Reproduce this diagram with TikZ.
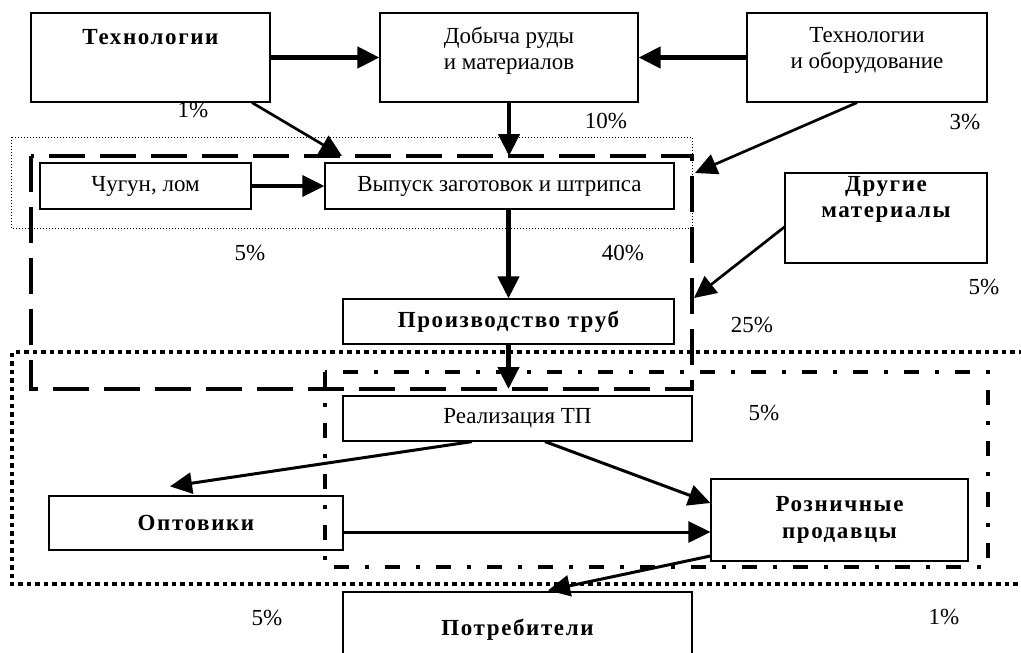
\documentclass[tikz,border=0pt]{standalone}
\usepackage{fontspec}
\setmainfont{Liberation Serif}
\usetikzlibrary{arrows.meta,positioning}

\newcommand{\bfsp}{\bfseries\addfontfeature{LetterSpace=7}}

\begin{document}
\begin{tikzpicture}[x=1pt, y=-1pt,
  box/.style={draw, line width=1.2pt, inner sep=0pt, align=center,
              font=\fontsize{23}{27}\selectfont},
  bbox/.style={box, font=\fontsize{23}{27}\selectfont\bfsp},
  lbl/.style={inner sep=0pt, align=center, font=\fontsize{23}{26}\selectfont},
  blbl/.style={lbl, font=\fontsize{23}{26}\selectfont\bfsp},
  pct/.style={inner sep=0pt, font=\fontsize{23}{26}\selectfont},
  arr/.style={draw, line width=4.5pt, -{Triangle[length=22pt,width=21pt]}},
  arrm/.style={arr, line width=3pt},
  frdot/.style={draw, line width=1pt, dash pattern=on 1pt off 2pt},
  frdash/.style={draw, line width=4pt, dash pattern=on 36pt off 15pt},
  frbig/.style={draw, line width=4pt, dash pattern=on 4.5pt off 4pt},
  frdd/.style={draw, line width=4pt, dash pattern=on 15pt off 16pt on 4pt off 16pt},
]
\useasboundingbox (0,0) rectangle (1021,653);
\clip (0,0) rectangle (1021,653);
% --- top row ---
\node[box, minimum width=239, minimum height=89] (tech) at (150.5,57.5) {};
\node[blbl] (techT) at ([yshift=-25pt]tech.north) {Технологии};
\node[box, minimum width=258, minimum height=89] (mine) at (509,57.5) {};
\node[lbl] (mineT) at ([yshift=-38pt]mine.north) {Добыча руды\\и материалов};
\node[box, minimum width=240, minimum height=89] (equip) at (867,57.5) {};
\node[lbl] (equipT) at ([yshift=-38pt]equip.north) {Технологии\\и оборудование};
% --- billets ---
\node[box, minimum width=211, minimum height=46] (iron) at (145.5,186) {Чугун, лом};
\node[box, minimum width=349, minimum height=46] (billet) at (499.5,186) {Выпуск заготовок и штрипса};
\node[box, minimum width=202, minimum height=90] (other) at (886,218) {};
\node[blbl] (otherT) at ([yshift=-27pt]other.north) {Другие\\материалы};
\node[bbox, minimum width=331, minimum height=45] (pipe) at (508.5,321.5) {Производство труб};
% --- sales ---
\node[box, minimum width=349, minimum height=45] (sale) at (517.5,418.5) {Реализация ТП};
\node[bbox, minimum width=294, minimum height=54] (whole) at (196,523) {Оптовики};
\node[bbox, minimum width=257, minimum height=82] (retail) at (839.5,520) {Розничные\\продавцы};
\node[bbox, minimum width=349, minimum height=76] (cons) at (517.5,630) {Потребители};
% --- frames ---
\coordinate (dashTL) at (31,156);
\coordinate (dashBR) at (692,389);
\draw[frdot] (11,137) rectangle (692,228);
\draw[frdash] (dashTL) rectangle (dashBR);
\draw[frbig] (1040,352) -- (12,352) -- (12,584) -- (1040,584);
\draw[frdd] (325,372) rectangle (988,567);
% --- arrows ---
\coordinate (tipA) at (342,156);
\coordinate (tipB) at (695,173);
\coordinate (tipC) at (694,298);
\draw[arr] (tech) -- (mine);
\draw[arr] (equip) -- (mine);
\draw[arrm, line width=2.7pt] ([xshift=101.5pt]tech.south) -- (tipA);
\draw[arr] (mine.south) -- (mine.south |- dashTL);
\draw[arrm, line width=2.7pt] ([xshift=-10pt]equip.south) -- (tipB);
\draw[arrm, line width=3.5pt] (iron) -- (billet);
\draw[arr] (pipe.north |- billet.south) -- (pipe.north);
\draw[arrm, line width=2.7pt] ([yshift=-9pt]other.west) -- (tipC);
\draw[arr] (pipe.south) -- (pipe.south |- dashBR);
\draw[arrm] ([xshift=-45.5pt]sale.south) -- ([xshift=-26pt,yshift=9pt]whole.north);
\draw[arrm] ([xshift=27.5pt]sale.south) -- ([yshift=17pt]retail.west);
\draw[arrm] ([yshift=-9pt]whole.east) -- ([yshift=-9pt]whole.east -| retail.west);
\draw[arrm] ([yshift=-36pt]retail.west) -- ([xshift=30.5pt,yshift=1pt]cons.north);
% --- shares ---
\node[pct] (p1) at (193,110) {1\%};
\node[pct] (p2) at (606,121) {10\%};
\node[pct] (p3) at (965,122) {3\%};
\node[pct] (p4) at (250,253) {5\%};
\node[pct] (p5) at (623,253) {40\%};
\node[pct] (p6) at (984,287) {5\%};
\node[pct] (p7) at (752,325) {25\%};
\node[pct] (p8) at (764,413) {5\%};
\node[pct] (p9) at (267,618) {5\%};
\node[pct] (p10) at (944,617) {1\%};
\end{tikzpicture}
\end{document}
